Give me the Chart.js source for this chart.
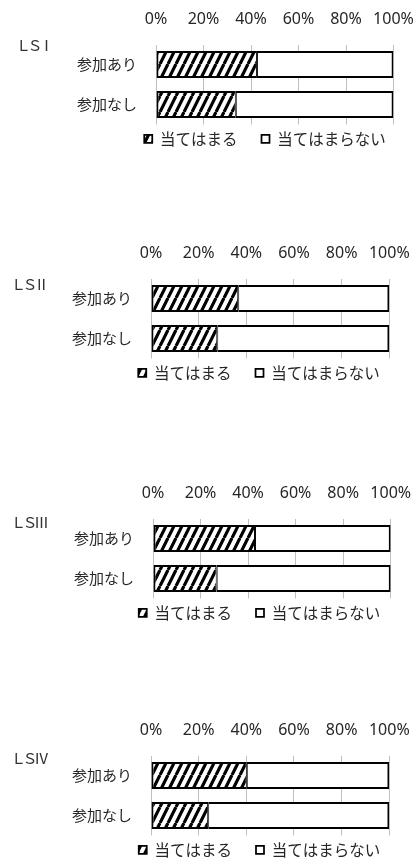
<!DOCTYPE html>
<html>
<head>
<meta charset="utf-8">
<script src="https://cdn.jsdelivr.net/npm/chart.js@4/dist/chart.umd.min.js"></script>
<style>
  body { margin: 0; background: #fff; width: 418px; height: 863px; overflow: hidden; position: relative; }
  .panel { position: absolute; left: 0; width: 418px; height: 150px; }
  .ls { position: absolute; font-family: "Noto Sans CJK JP"; font-size: 15px; letter-spacing: -3.5px; line-height: 16px; color: #333; white-space: nowrap; }
</style>
</head>
<body>
<div id="wrap"></div>
<script>
// chart data
const groupNames = ['ＬＳⅠ', 'ＬＳⅡ', 'ＬＳⅢ', 'ＬＳⅣ'];
const categories = ['参加あり', '参加なし'];
const seriesNames = ['当てはまる', '当てはまらない'];
const tickValues = [0, 20, 40, 60, 80, 100];
const tickLabels = ['0%', '20%', '40%', '60%', '80%', '100%'];

// share of answers (%), [参加あり, 参加なし]
const appliesLS1 = [42.5, 33.6];
const appliesLS2 = [36.6, 27.8];
const appliesLS3 = [42.9, 26.8];
const appliesLS4 = [40.2, 24.0];
const notAppliesLS1 = [57.5, 66.4];
const notAppliesLS2 = [63.4, 72.2];
const notAppliesLS3 = [57.1, 73.2];
const notAppliesLS4 = [59.8, 76.0];

const applies = [appliesLS1, appliesLS2, appliesLS3, appliesLS4];
const notApplies = [notAppliesLS1, notAppliesLS2, notAppliesLS3, notAppliesLS4];

// where each panel sits on the page
const panels = [
  { top: 0,   chartL: 156, padR: 24.5, legC: 265,   lsTop: 37,  lsLeft: 16 },
  { top: 234, chartL: 151, padR: 28.7, legC: 259,   lsTop: 276, lsLeft: 11 },
  { top: 474, chartL: 153, padR: 27.3, legC: 259.5, lsTop: 514, lsLeft: 11 },
  { top: 711, chartL: 151, padR: 28.7, legC: 259.5, lsTop: 750, lsLeft: 11 }
];

const textColor = '#262626';
const cjk = '"Noto Sans CJK JP", "Noto Sans"';

// diagonal hatch for 当てはまる
function makeHatch(ctx) {
  const tile = document.createElement('canvas');
  tile.width = 8; tile.height = 16;
  const g = tile.getContext('2d');
  g.fillStyle = '#fff';
  g.fillRect(0, 0, 8, 16);
  g.strokeStyle = '#000';
  g.lineWidth = 3.2;
  g.beginPath();
  for (const dx of [-8, 0, 8]) { g.moveTo(dx, 16); g.lineTo(dx + 8, 0); }
  g.stroke();
  return ctx.createPattern(tile, 'repeat');
}

// legend padding is also used vertically: pull the row back up under the bars,
// and centre it where the original sits
const placeLegend = {
  id: 'placeLegend',
  afterLayout(chart, args, opts) {
    const lg = chart.legend;
    const shift = opts.center - (lg.left + lg.right) / 2;
    lg.left += shift;
    lg.right += shift;
    lg.top -= 17.5;
    lg.bottom = chart.height;
  }
};

const wrap = document.getElementById('wrap');

panels.forEach((p, i) => {
  const box = document.createElement('div');
  box.className = 'panel';
  box.style.top = p.top + 'px';
  const cv = document.createElement('canvas');
  cv.width = 418; cv.height = 150;
  box.appendChild(cv);
  wrap.appendChild(box);

  const ls = document.createElement('div');
  ls.className = 'ls';
  ls.style.top = p.lsTop + 'px';
  ls.style.left = p.lsLeft + 'px';
  ls.textContent = groupNames[i];
  document.body.appendChild(ls);

  const ctx = cv.getContext('2d');
  new Chart(ctx, {
    type: 'bar',
    data: {
      labels: categories,
      datasets: [{
        label: seriesNames[0],
        data: applies[i],
        backgroundColor: makeHatch(ctx),
        borderColor: '#000',
        borderWidth: { top: 2, bottom: 2, left: 2, right: 1 },
        borderSkipped: false,
        barPercentage: 0.675,
        categoryPercentage: 1
      }, {
        label: seriesNames[1],
        data: notApplies[i],
        backgroundColor: '#fff',
        borderColor: '#000',
        borderWidth: { top: 2, bottom: 2, left: 1, right: 2 },
        borderSkipped: false,
        barPercentage: 0.675,
        categoryPercentage: 1
      }]
    },
    options: {
      indexAxis: 'y',
      responsive: false,
      animation: false,
      events: [],
      layout: { padding: { left: 0, right: p.padR, top: 0, bottom: 0 } },
      scales: {
        x: {
          position: 'top',
          stacked: true,
          min: 0,
          max: 100,
          afterBuildTicks: s => { s.ticks = tickValues.map(v => ({ value: v })); },
          afterFit: s => { s.height = 44.5; s.paddingLeft = 0; s.paddingRight = 0; },
          ticks: {
            autoSkip: false,
            maxRotation: 0,
            padding: 15,
            color: textColor,
            font: { family: '"Noto Sans"', size: 16 },
            callback: (v, idx) => tickLabels[idx]
          },
          grid: { color: '#bfbfbf', lineWidth: 1, drawTicks: false },
          border: { display: false }
        },
        y: {
          stacked: true,
          afterFit: s => { s.width = p.chartL; s.paddingTop = 0; s.paddingBottom = 0; },
          ticks: {
            padding: 19,
            color: textColor,
            font: { family: cjk, size: 15 }
          },
          grid: { display: false, drawTicks: false },
          border: { display: false }
        }
      },
      plugins: {
        tooltip: { enabled: false },
        placeLegend: { center: p.legC },
        legend: {
          position: 'bottom',
          maxHeight: 25.5,
          labels: {
            boxWidth: 8,
            boxHeight: 8,
            padding: 24,
            color: textColor,
            font: { family: cjk, size: 15.5 }
          }
        }
      }
    },
    plugins: [placeLegend]
  });
});
</script>
</body>
</html>
